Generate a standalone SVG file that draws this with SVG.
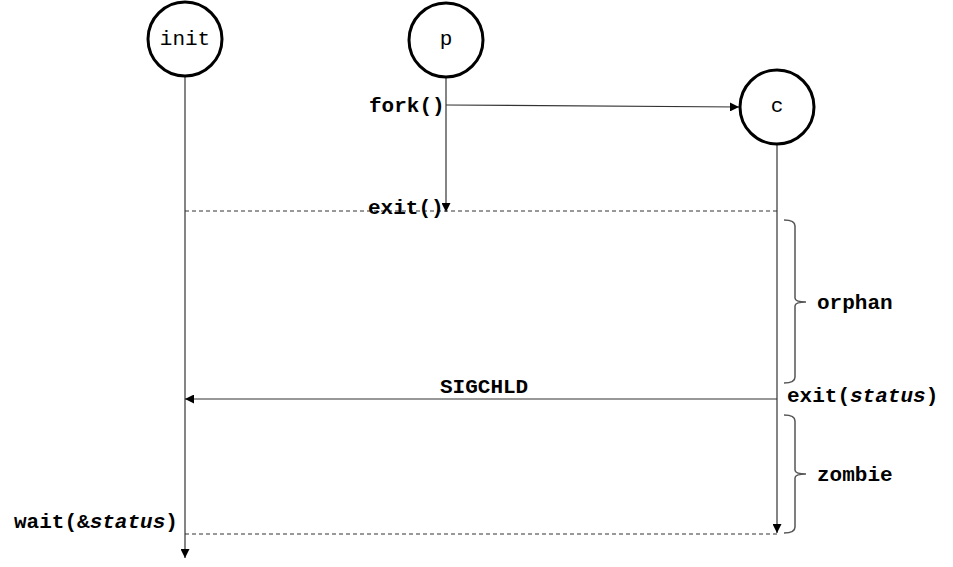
<svg xmlns="http://www.w3.org/2000/svg" width="953" height="567" viewBox="0 0 953 567">
<style>
.node{fill:#fff;stroke:#000;stroke-width:3}
.nt{font-family:"Liberation Mono","Courier New",monospace;font-size:21px;fill:#000;text-anchor:middle}
.lbl{font-family:"Liberation Mono","Courier New",monospace;font-size:21px;font-weight:bold;fill:#000}
.life{stroke:#333;stroke-width:1.2;fill:none}
.dash{stroke:#333;stroke-width:1;stroke-dasharray:4 3;fill:none}
.brace{stroke:#555;stroke-width:1.5;fill:none}
</style>
<defs>
<marker id="ah" viewBox="0 0 10 10" refX="10" refY="5" markerWidth="9" markerHeight="9" markerUnits="userSpaceOnUse" orient="auto">
<path d="M0,0 L10,5 L0,10 z" fill="#000"/>
</marker>
</defs>
<rect width="953" height="567" fill="#fff"/>
<g id="connectors">
<line class="life" x1="185" y1="77" x2="185" y2="558" marker-end="url(#ah)"/>
<line class="life" x1="446" y1="78" x2="446" y2="212" marker-end="url(#ah)"/>
<line class="life" x1="777" y1="145" x2="777" y2="533" marker-end="url(#ah)"/>
<line class="life" x1="446" y1="105" x2="739" y2="107" marker-end="url(#ah)"/>
<line class="dash" x1="185" y1="211" x2="777" y2="211"/>
<line class="life" x1="777" y1="399" x2="185" y2="399" marker-end="url(#ah)"/>
<line class="dash" x1="185" y1="534" x2="777" y2="534"/>
<path class="brace" d="M784,220 Q795,220 795,226 L795,298 Q795,302 806,302 Q795,302 795,306 L795,377 Q795,383 784,383"/>
<path class="brace" d="M784,415 Q795,415 795,421 L795,470 Q795,474 806,474 Q795,474 795,478 L795,527 Q795,533 784,533"/>
</g>
<g id="init"><circle class="node" cx="185" cy="39" r="37"/><text class="nt" x="185" y="45">init</text></g>
<g id="p"><circle class="node" cx="446" cy="40" r="37"/><text class="nt" x="446" y="45" fill="#400">p</text></g>
<g id="c"><circle class="node" cx="777" cy="107" r="37"/><text class="nt" x="777" y="112">c</text></g>
<g id="labels">
<text class="lbl" x="369" y="112">fork()</text>
<text class="lbl" x="368" y="214">exit()</text>
<text class="lbl" x="817" y="309">orphan</text>
<text class="lbl" x="440" y="393">SIGCHLD</text>
<text class="lbl" x="787" y="402">exit(<tspan font-style="italic">status</tspan>)</text>
<text class="lbl" x="817" y="481">zombie</text>
<text class="lbl" x="14" y="528">wait(&amp;<tspan font-style="italic">status</tspan>)</text>
</g>
</svg>
